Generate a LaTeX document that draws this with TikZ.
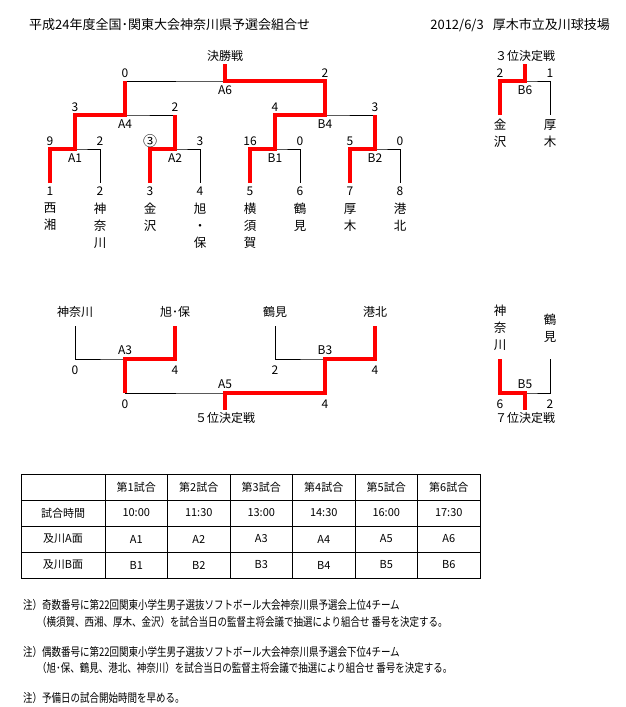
\documentclass[tikz,border=0pt]{standalone}
\usepackage{fontspec}
\setmainfont{Noto Sans CJK JP}
\usetikzlibrary{positioning}

\newcommand{\tallnote}[1]{\scalebox{1}[1.25]{#1}}

\tikzset{
  lose/.style={black, line width=0.8pt},
  win/.style={red, line width=3.5pt},
  lbl/.style={font=\fontsize{12}{14}\selectfont, inner sep=0pt},
  team/.style={font=\fontsize{12.5}{17}\selectfont, align=center, inner sep=0pt, anchor=north},
  hdr/.style={font=\fontsize{13}{15}\selectfont, inner sep=0pt},
  cell/.style={font=\fontsize{11}{13}\selectfont, inner sep=0pt},
  note/.style={font=\fontsize{9.5}{11}\selectfont, inner sep=0pt, anchor=west}
}

\begin{document}
\begin{tikzpicture}[x=1pt,y=-1pt]
\useasboundingbox (0,0) rectangle (626,707);

% header
\node[hdr, anchor=west] (title) at (29,25) {平成24年度全国･関東大会神奈川県予選会組合せ};
\node[hdr, anchor=east] (place) at (610,25) {2012/6/3\hspace{9pt}厚木市立及川球技場};

% main bracket
\foreach \i/\tm in {1/{西\\湘},2/{神\\奈\\川},3/{金\\沢},4/{旭\\・\\保},5/{横\\須\\賀},6/{鶴\\見},7/{厚\\木},8/{港\\北}} {
  \coordinate (t\i) at (50*\i,183);
  \node[lbl] (n\i) at (50*\i,191) {\i};
  \node[team] (tm\i) at (50*\i,203) {\tm};
}
\coordinate (A1) at (75,149);
\coordinate (A2) at (175,149);
\coordinate (B1) at (275,149);
\coordinate (B2) at (375,149);
\coordinate (A4) at (125,115);
\coordinate (B4) at (325,115);
\coordinate (A6) at (225,81);
\coordinate (F) at (225,64);

\draw[lose] (t1) |- (A1) -| (t2);
\draw[lose] (t3) |- (A2) -| (t4);
\draw[lose] (t5) |- (B1) -| (t6);
\draw[lose] (t7) |- (B2) -| (t8);
\draw[lose] (A1) |- (A4) -| (A2);
\draw[lose] (B1) |- (B4) -| (B2);
\draw[lose] (A4) |- (A6) -| (B4);
\draw[win] (t1) |- (A1) |- (A4) -- (A4 |- A6);
\draw[win] (t3) |- (A2) -- (A2 |- A4);
\draw[win] (t5) |- (B1) |- (B4) |- (A6) -- (F);
\draw[win] (t7) |- (B2) -- (B2 |- B4);

\node[lbl] (sA1l) at (50,141) {9};   \node[lbl] (sA1r) at (100,141) {2};  \node[lbl] (lA1) at (75,158) {A1};
\node[lbl, font=\fontsize{14}{14}\selectfont] (sA2l) at (150,141) {③};  \node[lbl] (sA2r) at (200,141) {3};  \node[lbl] (lA2) at (175,158) {A2};
\node[lbl] (sB1l) at (250,141) {16};  \node[lbl] (sB1r) at (300,141) {0};  \node[lbl] (lB1) at (275,158) {B1};
\node[lbl] (sB2l) at (350,141) {5};   \node[lbl] (sB2r) at (400,141) {0};  \node[lbl] (lB2) at (375,158) {B2};
\node[lbl] (sA4l) at (75,107) {3};    \node[lbl] (sA4r) at (175,107) {2};  \node[lbl] (lA4) at (125,124) {A4};
\node[lbl] (sB4l) at (275,107) {4};   \node[lbl] (sB4r) at (375,107) {3};  \node[lbl] (lB4) at (325,124) {B4};
\node[lbl] (sA6l) at (125,73) {0};    \node[lbl] (sA6r) at (325,73) {2};   \node[lbl] (lA6) at (225,90) {A6};
\node[lbl] (final) at (225,56) {決勝戦};

% third place
\coordinate (w1) at (500,115);
\coordinate (w2) at (550,115);
\coordinate (B6) at (525,81);
\coordinate (P3) at (525,64);
\draw[lose] (w1) |- (B6) -| (w2);
\draw[win] (w1) |- (B6) -- (P3);
\node[team] (tw1) at (500,119) {金\\沢};
\node[team] (tw2) at (550,119) {厚\\木};
\node[lbl] (sB6l) at (500,73) {2}; \node[lbl] (sB6r) at (550,73) {1}; \node[lbl] (lB6) at (525,90) {B6};
\node[lbl] (third) at (525,56) {３位決定戦};

% fifth place
\coordinate (u1) at (75,326);
\coordinate (u2) at (175,326);
\coordinate (u3) at (275,326);
\coordinate (u4) at (375,326);
\coordinate (A3) at (125,359);
\coordinate (B3) at (325,359);
\coordinate (A5) at (225,393);
\coordinate (P5) at (225,410);
\draw[lose] (u1) |- (A3) -| (u2);
\draw[lose] (u3) |- (B3) -| (u4);
\draw[lose] (A3) |- (A5) -| (B3);
\draw[win] (u2) |- (A3) -- (A3 |- A5);
\draw[win] (u4) |- (B3) |- (A5) -- (P5);
\node[lbl] (tu1) at (75,312) {神奈川};
\node[lbl] (tu2) at (175,312) {旭･保};
\node[lbl] (tu3) at (275,312) {鶴見};
\node[lbl] (tu4) at (375,312) {港北};
\node[lbl] (lA3) at (125,350) {A3}; \node[lbl] (sA3l) at (75,370) {0};  \node[lbl] (sA3r) at (175,370) {4};
\node[lbl] (lB3) at (325,350) {B3}; \node[lbl] (sB3l) at (275,370) {2}; \node[lbl] (sB3r) at (375,370) {4};
\node[lbl] (lA5) at (225,384) {A5}; \node[lbl] (sA5l) at (125,404) {0}; \node[lbl] (sA5r) at (325,404) {4};
\node[lbl] (fifth) at (225,418) {５位決定戦};

% seventh place
\coordinate (v1) at (500,359);
\coordinate (v2) at (550,359);
\coordinate (B5) at (525,393);
\coordinate (P7) at (525,410);
\draw[lose] (v1) |- (B5) -| (v2);
\draw[win] (v1) |- (B5) -- (P7);
\node[team] (tv1) at (500,305) {神\\奈\\川};
\node[team] (tv2) at (550,314) {鶴\\見};
\node[lbl] (lB5) at (525,384) {B5}; \node[lbl] (sB5l) at (500,404) {6}; \node[lbl] (sB5r) at (550,404) {2};
\node[lbl] (seventh) at (525,418) {７位決定戦};

% timetable
\draw[lose] (21,474) rectangle (480,578);
\foreach \y in {500,526,552} \draw[lose] (21,\y) -- (480,\y);
\foreach \i in {0,...,5} \draw[lose] (105+62.5*\i,474) -- (105+62.5*\i,578);
\node[cell] (r1) at (63,513) {試合時間};
\node[cell] (r2) at (63,539) {及川A面};
\node[cell] (r3) at (63,565) {及川B面};
\foreach \i/\t in {1/10:00,2/11:30,3/13:00,4/14:30,5/16:00,6/17:30} {
  \node[cell] (h\i) at (73.75+62.5*\i,487) {第\i 試合};
  \node[cell] (c\i) at (73.75+62.5*\i,513) {\t};
  \node[cell] (a\i) at (73.75+62.5*\i,539) {A\i};
  \node[cell] (b\i) at (73.75+62.5*\i,565) {B\i};
}

% notes
\node[note] (note1) at (23,605) {\tallnote{注）奇数番号に第22回関東小学生男子選抜ソフトボール大会神奈川県予選会上位4チーム}};
\node[note] (note2) at (37,622) {\tallnote{（横須賀、西湘、厚木、金沢）を試合当日の監督主将会議で抽選により組合せ 番号を決定する。}};
\node[note] (note3) at (23,652) {\tallnote{注）偶数番号に第22回関東小学生男子選抜ソフトボール大会神奈川県予選会下位4チーム}};
\node[note] (note4) at (37,668) {\tallnote{（旭･保、鶴見、港北、神奈川）を試合当日の監督主将会議で抽選により組合せ 番号を決定する。}};
\node[note] (note5) at (23,698) {\tallnote{注）予備日の試合開始時間を早める。}};

\end{tikzpicture}
\end{document}
